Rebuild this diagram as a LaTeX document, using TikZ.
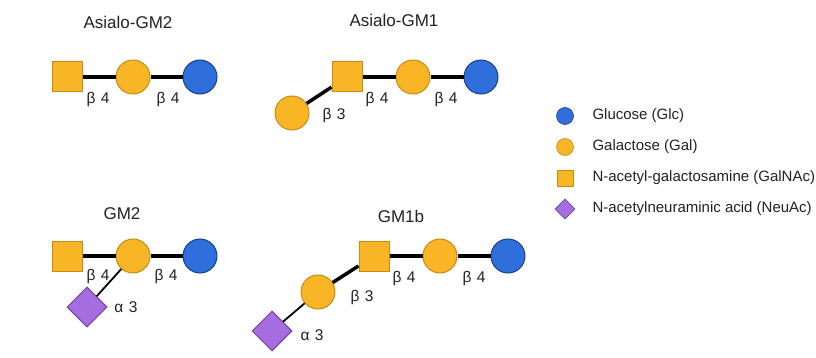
\documentclass[tikz,border=0pt]{standalone}
\usepackage{fontspec}
\setmainfont{Liberation Sans}
\usetikzlibrary{shapes.geometric}
\definecolor{galfill}{HTML}{F8B526}
\definecolor{galdraw}{HTML}{C98A12}
\definecolor{glcfill}{HTML}{2F6FDB}
\definecolor{glcdraw}{HTML}{1B3D8A}
\definecolor{neufill}{HTML}{A66DE0}
\definecolor{neudraw}{HTML}{6E44A8}
\definecolor{txt}{HTML}{222222}
\tikzset{
  gal/.style={circle,minimum size=34pt,inner sep=0pt,fill=galfill,draw=galdraw,line width=1pt},
  glc/.style={circle,minimum size=34pt,inner sep=0pt,fill=glcfill,draw=glcdraw,line width=1pt},
  galnac/.style={rectangle,minimum size=30pt,inner sep=0pt,fill=galfill,draw=galdraw,line width=1pt},
  neuac/.style={diamond,minimum size=40pt,inner sep=0pt,fill=neufill,draw=neudraw,line width=1pt},
  lgal/.style={gal,minimum size=17pt,line width=0.6pt},
  lglc/.style={glc,minimum size=17pt,line width=0.6pt},
  lgalnac/.style={galnac,minimum size=16pt,line width=0.6pt},
  lneuac/.style={neuac,minimum size=20pt,line width=0.6pt},
  bond/.style={line width=3.5pt,black},
  thinbond/.style={line width=1.8pt,black},
  title/.style={font=\fontsize{17}{20}\selectfont,text=txt},
  link/.style={font=\fontsize{15.5}{18}\selectfont,text=txt},
  legtext/.style={font=\fontsize{15}{17}\selectfont,text=txt,anchor=west},
}
\begin{document}
\begin{tikzpicture}[x=1pt,y=-1pt]
\useasboundingbox (0,0) rectangle (816,358);
% Asialo-GM2
\node[title] (t1) at (128,22) {Asialo-GM2};
\node[galnac] (a1) at (67,77) {};
\node[gal] (a2) at (133,77) {};
\node[glc] (a3) at (200,77) {};
\draw[bond] (a1) -- (a2);
\draw[bond] (a2) -- (a3);
\node[link] (l11) at (98,99) {β\hspace{0.35em}4};
\node[link] (l12) at (168,99) {β\hspace{0.35em}4};
% Asialo-GM1
\node[title] (t2) at (394,20) {Asialo-GM1};
\node[galnac] (b1) at (347,77) {};
\node[gal] (b2) at (413,77) {};
\node[glc] (b3) at (481,77) {};
\node[gal] (b4) at (292,113) {};
\draw[bond] (b1) -- (b2);
\draw[bond] (b2) -- (b3);
\draw[bond] (b4) -- (b1);
\node[link] (l21) at (334,115) {β\hspace{0.35em}3};
\node[link] (l22) at (377,99) {β\hspace{0.35em}4};
\node[link] (l23) at (446,99) {β\hspace{0.35em}4};
% GM2
\node[title] (t3) at (122,214) {GM2};
\node[galnac] (c1) at (67,256) {};
\node[gal] (c2) at (133,256) {};
\node[glc] (c3) at (200,256) {};
\node[neuac] (c4) at (87,307) {};
\draw[bond] (c1) -- (c2);
\draw[bond] (c2) -- (c3);
\draw[thinbond] (c4) -- (c2);
\node[link] (l31) at (98,276) {β\hspace{0.35em}4};
\node[link] (l32) at (166,276) {β\hspace{0.35em}4};
\node[link] (l33) at (126,307) {α\hspace{0.35em}3};
% GM1b
\node[title] (t4) at (401,216) {GM1b};
\node[galnac] (d1) at (374,256) {};
\node[gal] (d2) at (440,256) {};
\node[glc] (d3) at (508,256) {};
\node[gal] (d4) at (318,292) {};
\node[neuac] (d5) at (272,331) {};
\draw[bond] (d1) -- (d2);
\draw[bond] (d2) -- (d3);
\draw[bond] (d4) -- (d1);
\draw[thinbond] (d5) -- (d4);
\node[link] (l41) at (362,297) {β\hspace{0.35em}3};
\node[link] (l42) at (404,278) {β\hspace{0.35em}4};
\node[link] (l43) at (474,278) {β\hspace{0.35em}4};
\node[link] (l44) at (312,335) {α\hspace{0.35em}3};
% Legend
\node[lglc] (g1) at (565,116) {};
\node[lgal] (g2) at (565,147) {};
\node[lgalnac] (g3) at (565,178) {};
\node[lneuac] (g4) at (565,209) {};
\node[legtext] (gt1) at (589,116) {Glucose (Glc)};
\node[legtext] (gt2) at (589,147) {Galactose (Gal)};
\node[legtext] (gt3) at (589,178) {N-acetyl-galactosamine (GalNAc)};
\node[legtext] (gt4) at (589,209) {N-acetylneuraminic acid (NeuAc)};
\end{tikzpicture}
\end{document}
